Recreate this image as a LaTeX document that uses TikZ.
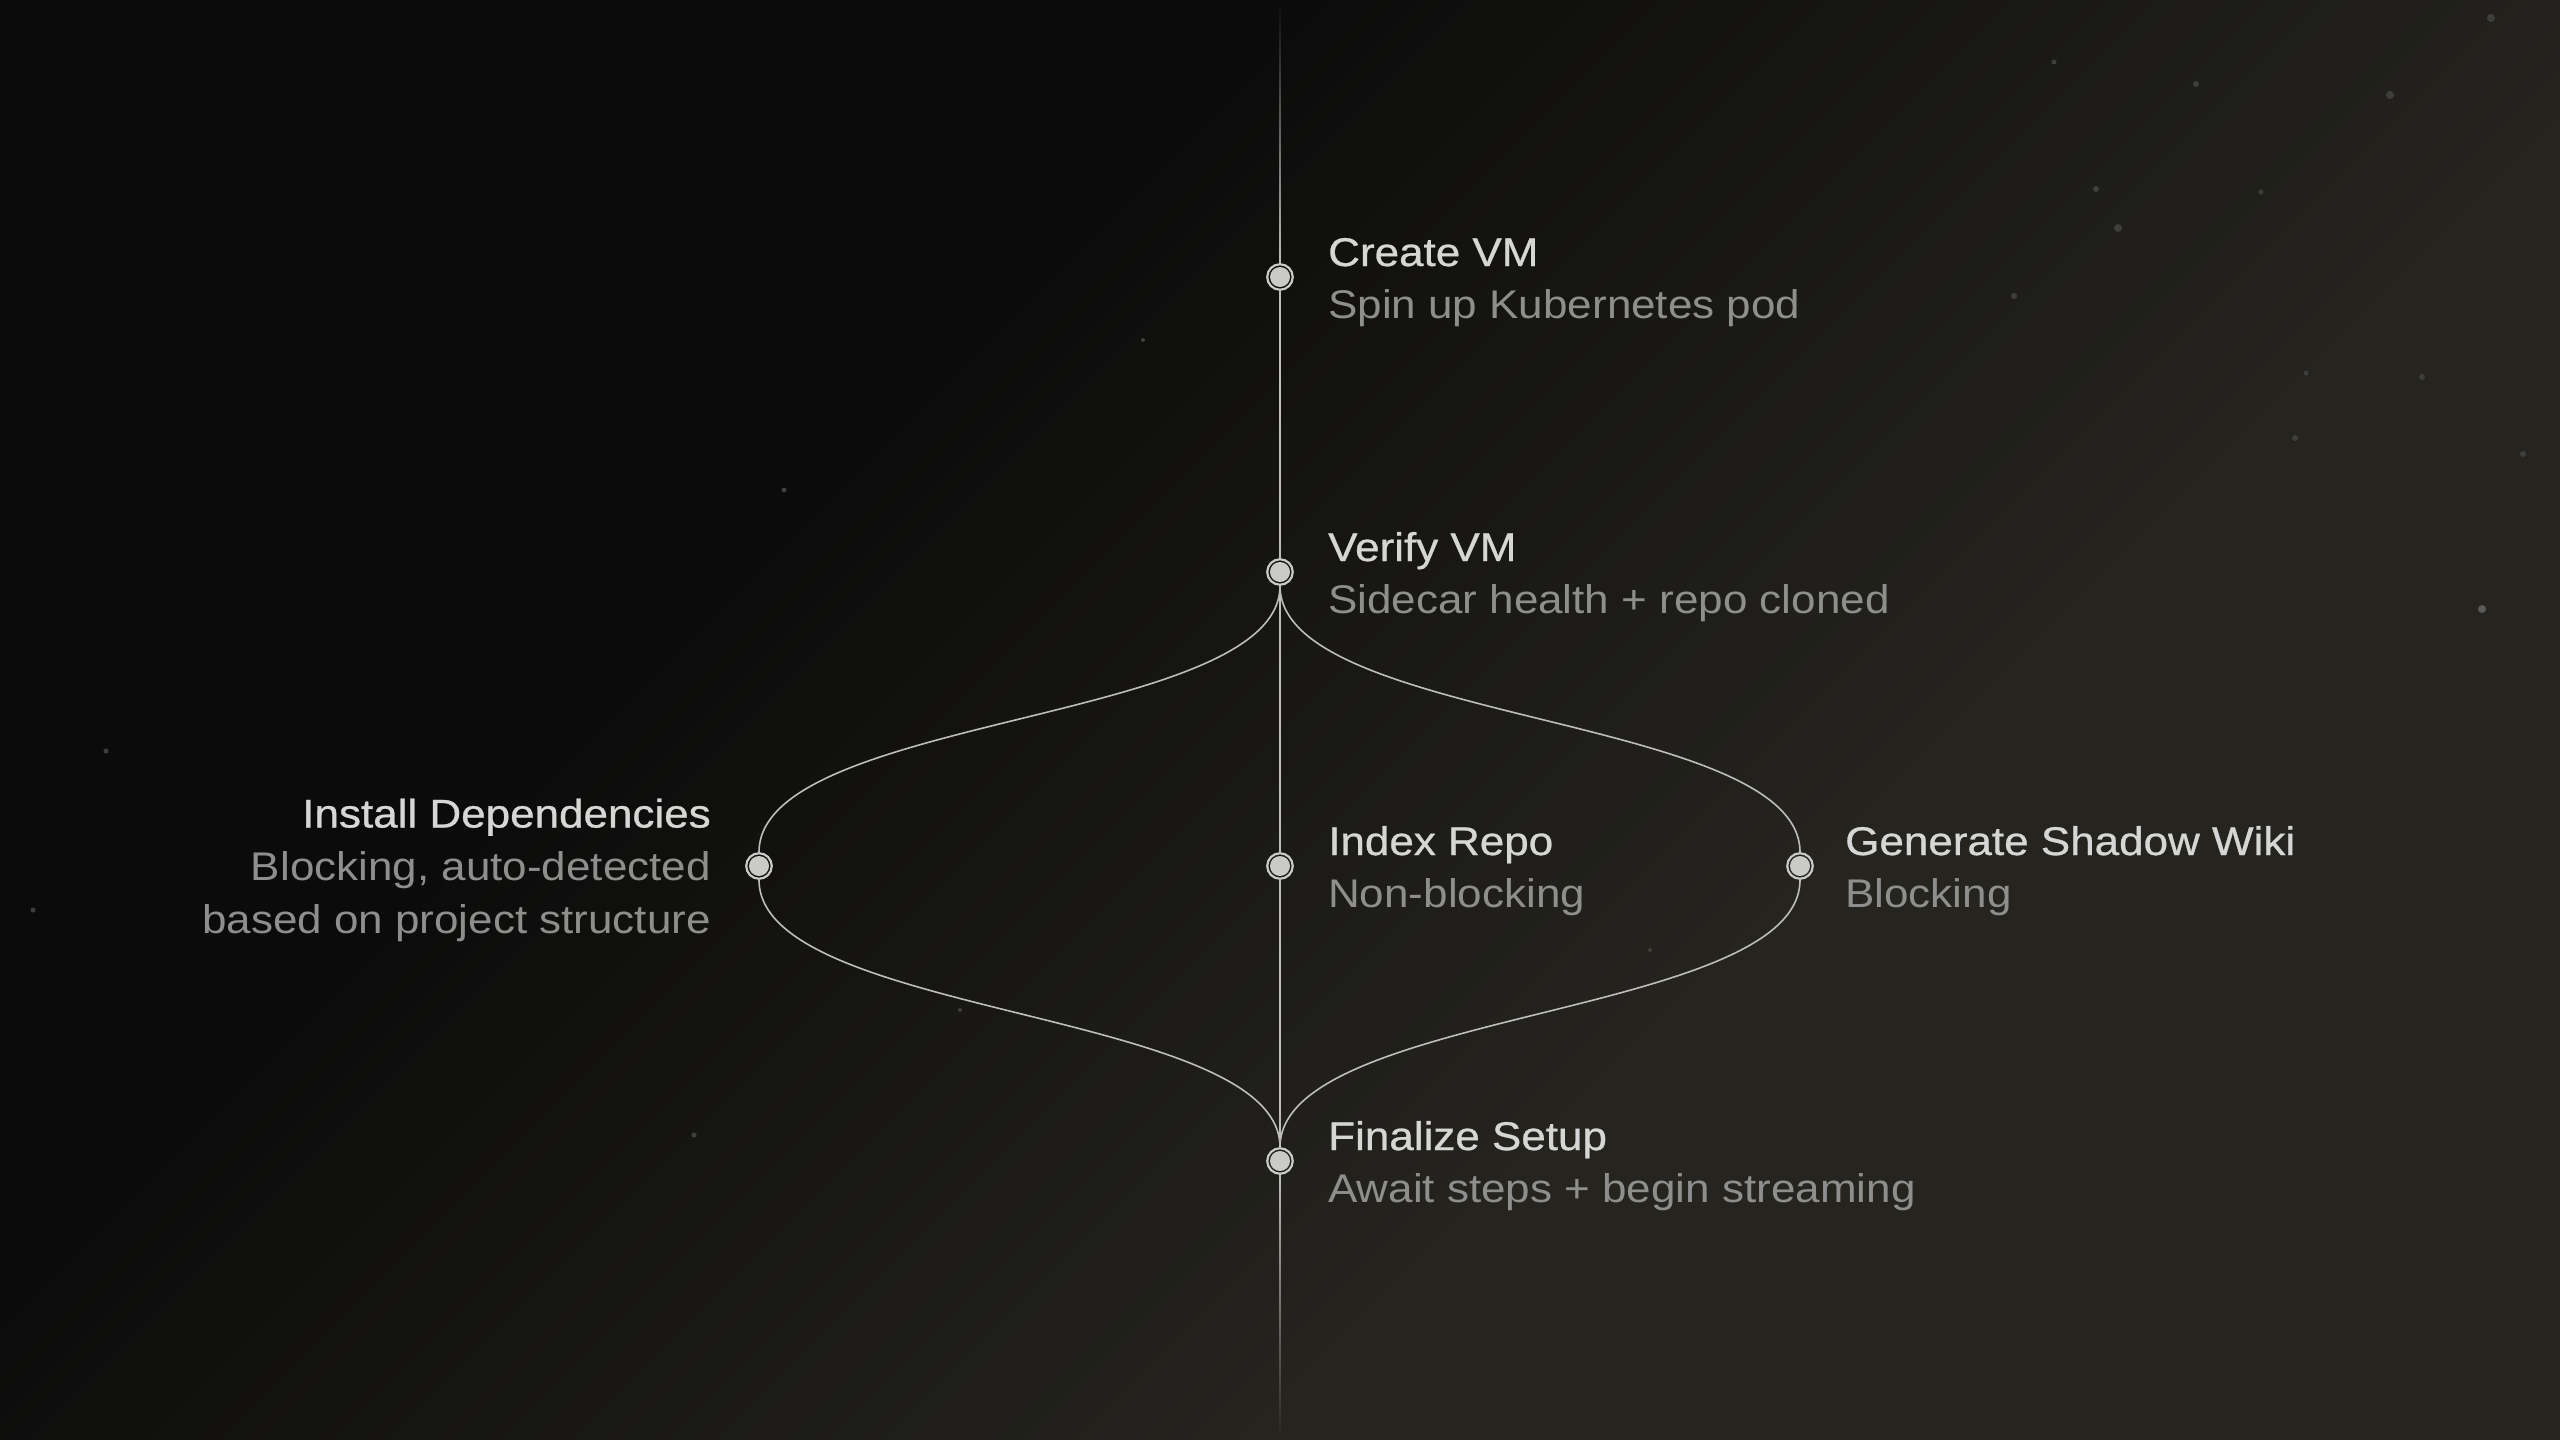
\documentclass[tikz,border=0pt]{standalone}
\usepackage{fontspec}
\newfontfamily\labelfont{Liberation Sans}[FakeStretch=1.1]
\newfontfamily\headfont{Liberation Sans}[FakeStretch=1.1, FakeBold=0.7]
\usetikzlibrary{calc}
\definecolor{bgdark}{HTML}{0B0B0B}
\definecolor{bgwarm}{HTML}{25241F}
\definecolor{bgcorner}{HTML}{30302E}
\definecolor{linecol}{HTML}{BDBDBB}
\definecolor{nodecol}{HTML}{CACAC8}
\definecolor{titlecol}{HTML}{D6D6D4}
\definecolor{subcol}{HTML}{8E8E8C}
\definecolor{speckcol}{HTML}{3E3E3C}
\definecolor{speckbright}{HTML}{5A5A58}
\tikzset{
  dotnode/.style={circle, draw=nodecol, line width=2.2pt, minimum size=25.5pt, inner sep=0pt,
    path picture={\fill[nodecol] (path picture bounding box.center) circle (10pt);}},
  wire/.style={draw=linecol, line width=1.6pt},
  steptitle/.style={font=\headfont\fontsize{40}{48}\selectfont, text=titlecol, inner sep=0pt},
  stepsub/.style={font=\labelfont\fontsize{40}{48}\selectfont, text=subcol, inner sep=0pt},
}
\begin{document}
\begin{tikzpicture}[x=1pt,y=-1pt]
\useasboundingbox (0,0) rectangle (2560,1440);
\begin{scope}
  \clip (0,0) rectangle (2560,1440);
  \fill[bgdark] (0,0) rectangle (2560,1440);
  % diagonal gradient: dark top-left, warm grey bottom-right
  \foreach \i in {0,...,59} {
    \pgfmathsetmacro\ca{1280+\i*23.667}
    \pgfmathsetmacro\cb{\ca+24.5}
    \pgfmathtruncatemacro\pct{(\i+0.5)*100/60}
    \fill[bgwarm!\pct!bgdark] (\ca+1600,-1600) -- (\ca-1600,1600) -- (\cb-1600,1600) -- (\cb+1600,-1600) -- cycle;
  }
  \fill[bgwarm] (2700+1600,-1600) -- (2700-1600,1600) -- (4200,1600) -- (4200,-1600) -- cycle;
  % soft lighter corner at top right
  \foreach \i in {1,...,40}
    \fill[bgcorner, fill opacity=0.018] (2560,0) circle (\i*24);
  % faint specks
  \foreach \px/\py/\r in {2054/62/2.5, 2196/84/3, 2390/95/4, 2491/18/4, 2096/189/3, 2261/192/2.5,
      2118/228/4, 2014/296/3, 2306/373/2.5, 2422/377/3, 2295/438/3, 2523/454/3,
      106/751/2.5, 33/910/2.5, 694/1135/2.5, 784/490/2.5, 1143/340/2, 960/1010/2, 1650/950/2}
    \fill[speckcol] (\px,\py) circle (\r);
  \fill[speckbright] (2482,609) circle (4);
\end{scope}

% step nodes
\node[dotnode] (create) at (1280,277) {};
\node[dotnode] (verify) at (1280,572) {};
\node[dotnode] (index)  at (1280,866) {};
\node[dotnode] (deps)   at (759,866) {};
\node[dotnode] (wiki)   at (1800,866) {};
\node[dotnode] (final)  at (1280,1161) {};

% spine with fading ends
\shade[top color=bgdark, bottom color=linecol] (1279.2,4) rectangle ([xshift=0.8pt]create.north);
\shade[top color=linecol, bottom color=bgwarm] ([xshift=-0.8pt]final.south) rectangle (1280.8,1440);
\draw[wire] (create.south) -- (verify.north);
\draw[wire] (verify.south) -- (index.north);
\draw[wire] (index.south) -- (final.north);

% branches
\draw[wire] (verify.south) .. controls +(0,138) and +(0,-138) .. (deps.north);
\draw[wire] (verify.south) .. controls +(0,138) and +(0,-138) .. (wiki.north);
\draw[wire] (deps.south) .. controls +(0,138) and +(0,-138) .. (final.north);
\draw[wire] (wiki.south) .. controls +(0,138) and +(0,-138) .. (final.north);

% labels
\node[steptitle, anchor=base west] (t1) at ([xshift=48pt,yshift=11pt]create.center) {Create VM};
\node[stepsub, anchor=base west] (s1) at ([xshift=48pt,yshift=-41pt]create.center) {Spin up Kubernetes pod};

\node[steptitle, anchor=base west] (t2) at ([xshift=48pt,yshift=11pt]verify.center) {Verify VM};
\node[stepsub, anchor=base west] (s2) at ([xshift=48pt,yshift=-41pt]verify.center) {Sidecar health + repo cloned};

\node[steptitle, anchor=base west] (t3) at ([xshift=48pt,yshift=11pt]index.center) {Index Repo};
\node[stepsub, anchor=base west] (s3) at ([xshift=48pt,yshift=-41pt]index.center) {Non-blocking};

\node[steptitle, anchor=base west] (t4) at ([xshift=45pt,yshift=11pt]wiki.center) {Generate Shadow Wiki};
\node[stepsub, anchor=base west] (s4) at ([xshift=45pt,yshift=-41pt]wiki.center) {Blocking};

\node[steptitle, anchor=base east] (t5) at ([xshift=-48pt,yshift=38.5pt]deps.center) {Install Dependencies};
\node[stepsub, anchor=base east] (s5a) at ([xshift=-48pt,yshift=-14.5pt]deps.center) {Blocking, auto-detected};
\node[stepsub, anchor=base east] (s5b) at ([xshift=-48pt,yshift=-67.5pt]deps.center) {based on project structure};

\node[steptitle, anchor=base west] (t6) at ([xshift=48pt,yshift=11pt]final.center) {Finalize Setup};
\node[stepsub, anchor=base west] (s6) at ([xshift=48pt,yshift=-41pt]final.center) {Await steps + begin streaming};
\end{tikzpicture}
\end{document}
